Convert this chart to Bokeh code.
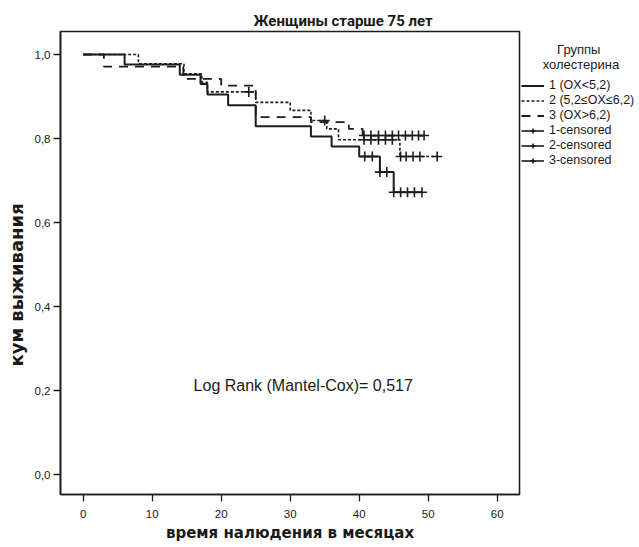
from bokeh.plotting import figure
from bokeh.models import (Legend, LegendItem, Label, FixedTicker,
                          CustomJSTickFormatter, Range1d)
from bokeh.embed import file_html
from bokeh.resources import INLINE

# ---- data ----
g1_t = [0, 6, 14, 17, 18, 21, 25, 33, 36, 40, 43, 45, 49.1]
g1_s = [1.0, 0.976, 0.952, 0.930, 0.905, 0.879, 0.829, 0.805, 0.781, 0.757, 0.720, 0.672, 0.672]
g1_ct = [40.8, 41.9, 43.0, 44.0, 45.0, 46.0, 47.0, 48.0, 49.1]
g1_cs = [0.757, 0.757, 0.720, 0.720, 0.672, 0.672, 0.672, 0.672, 0.672]

g2_t = [0, 8, 14.6, 17.2, 18, 25, 30, 33, 35.3, 37, 45.9, 51.3]
g2_s = [1.0, 0.978, 0.954, 0.934, 0.911, 0.886, 0.867, 0.843, 0.823, 0.797, 0.757, 0.757]
g2_ct = [24.0, 35.0, 40.7, 41.7, 42.8, 43.8, 44.8, 46.0, 46.8, 47.8, 48.8, 51.3]
g2_cs = [0.911, 0.843, 0.797, 0.797, 0.797, 0.797, 0.797, 0.757, 0.757, 0.757, 0.757, 0.757]

g3_t = [0, 3, 14.5, 20, 25, 33, 38.5, 40.5, 49.4]
g3_s = [1.0, 0.971, 0.942, 0.926, 0.851, 0.839, 0.823, 0.807, 0.807]
g3_ct = [40.7, 41.7, 42.8, 43.8, 44.8, 45.7, 46.7, 47.7, 48.6, 49.4]
g3_cs = [0.807] * 10

x_ticks = [0, 10, 20, 30, 40, 50, 60]
y_ticks = [0.0, 0.2, 0.4, 0.6, 0.8, 1.0]

group_labels = ["1 (OX<5,2)", "2 (5,2\u2264OX\u22646,2)", "3 (OX>6,2)"]
censor_labels = ["1-censored", "2-censored", "3-censored"]
legend_title_lines = ["Группы", "холестерина"]
title_text = "Женщины старше 75 лет"
x_label = "время налюдения в месяцах"
y_label = "кум выживания"
logrank_text = "Log Rank (Mantel-Cox)= 0,517"

INK = "#1c1c1c"
TXT = "#1a1a1a"
FONT = "Liberation Sans"
BOLD_FONT = "DejaVu Sans"
NB = "\u00a0"

p = figure(frame_width=459, frame_height=463, output_backend="svg",
           toolbar_location=None,
           x_range=Range1d(-3.29, 63.23), y_range=Range1d(-0.0476, 1.0548),
           min_border_left=60, min_border_right=0, min_border_top=31,
           min_border_bottom=53)
p.background_fill_color = "white"
p.border_fill_color = "white"
p.outline_line_color = INK
p.outline_line_width = 1.6
p.xgrid.visible = False
p.ygrid.visible = False

p.title.text = title_text
p.title.text_font = "Roboto"
p.title.text_font_style = "bold"
p.title.text_font_size = "15px"
p.title.text_color = TXT
p.title.align = "left"
p.title.offset = 193
p.title.standoff = 4

for ax in (p.xaxis[0], p.yaxis[0]):
    ax.axis_line_color = INK
    ax.axis_line_width = 1.6
    ax.major_tick_line_color = INK
    ax.major_tick_line_width = 1.3
    ax.major_tick_out = 7
    ax.major_tick_in = 0
    ax.minor_tick_line_color = None
    ax.major_label_text_font = FONT
    ax.major_label_text_font_size = "11.5px"
    ax.major_label_text_color = TXT
    ax.axis_label_text_font = BOLD_FONT
    ax.axis_label_text_font_style = "bold"
    ax.axis_label_text_color = TXT

p.xaxis[0].axis_label_text_font_size = "15px"
p.yaxis[0].axis_label_text_font_size = "18px"
p.xaxis[0].ticker = FixedTicker(ticks=x_ticks)
p.yaxis[0].ticker = FixedTicker(ticks=y_ticks)
p.yaxis[0].formatter = CustomJSTickFormatter(code="return tick.toFixed(1).replace('.', ',');")
p.xaxis[0].axis_label = x_label
# trailing no-break spaces push the rotated label a little below the frame centre, as in the original
p.yaxis[0].axis_label = y_label + NB * 7
p.xaxis[0].major_label_standoff = 8
p.xaxis[0].axis_label_standoff = 3
p.yaxis[0].major_label_standoff = 3
p.yaxis[0].axis_label_standoff = 5

# ---- survival curves ----
r1 = p.step(g1_t, g1_s, mode="after", line_color=INK, line_width=2)
r2 = p.step(g2_t, g2_s, mode="after", line_color=INK, line_width=1.6, line_dash="3 2")
r3 = p.step(g3_t, g3_s, mode="after", line_color=INK, line_width=1.8, line_dash="9 7")

c1 = p.scatter(g1_ct, g1_cs, marker="cross", size=10, line_color=INK, line_width=1.6)
c2 = p.scatter(g2_ct, g2_cs, marker="cross", size=10, line_color=INK, line_width=1.6)
c3 = p.scatter(g3_ct, g3_cs, marker="cross", size=10, line_color=INK, line_width=1.6)

# zero-length segments at the censor points (invisible on the plot) give the
# censored legend entries their horizontal stroke
s1 = p.segment(g1_ct, g1_cs, g1_ct, g1_cs, line_color=INK, line_width=1.6)
s2 = p.segment(g2_ct, g2_cs, g2_ct, g2_cs, line_color=INK, line_width=1.6)
s3 = p.segment(g3_ct, g3_cs, g3_ct, g3_cs, line_color=INK, line_width=1.6)

items = [
    LegendItem(label=group_labels[0], renderers=[r1]),
    LegendItem(label=group_labels[1], renderers=[r2]),
    LegendItem(label=group_labels[2], renderers=[r3]),
    LegendItem(label=censor_labels[0], renderers=[s1, c1]),
    LegendItem(label=censor_labels[1], renderers=[s2, c2]),
    LegendItem(label=censor_labels[2], renderers=[s3, c3]),
]
legend_title = NB * 10 + legend_title_lines[0] + "\n" + NB * 6 + legend_title_lines[1]
legend = Legend(items=items, location=(2, 327), margin=0, padding=0,
                spacing=1, glyph_width=23, glyph_height=13, label_standoff=5,
                label_text_font=FONT, label_text_font_size="12.5px",
                label_text_color=TXT, label_height=13,
                title=legend_title, title_text_font=FONT,
                title_text_font_size="13px", title_text_font_style="normal",
                title_text_color=TXT, title_standoff=6,
                background_fill_alpha=0, border_line_alpha=0)
p.add_layout(legend, "right")

p.add_layout(Label(x=16.0, y=0.212, text=logrank_text, text_align="left",
                   text_baseline="middle", text_font=FONT,
                   text_font_size="16px", text_color=TXT))

open("out.html", "w").write(file_html(p, INLINE))
